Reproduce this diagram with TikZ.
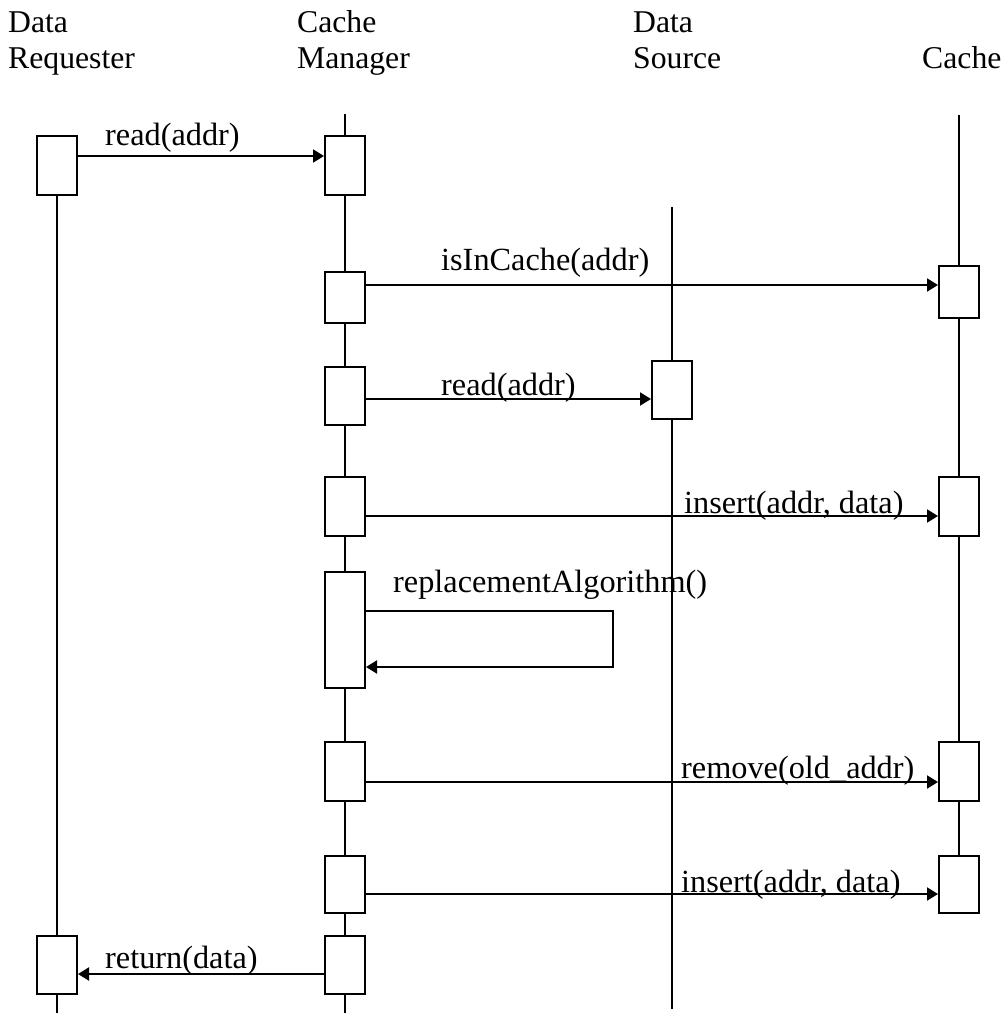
\documentclass[tikz,border=0pt]{standalone}
\usepackage{fontspec}
\setmainfont{Liberation Serif}
\usetikzlibrary{arrows.meta}
% activation box: name, lifeline x, top y, bottom y
\newcommand\actbox[4]{\node[act, minimum height={#4-#3}] (#1) at (#2,{(#3+#4)/2}) {};}
\begin{document}
\begin{tikzpicture}[x=1pt,y=-1pt,
  lifeline/.style={line width=1.3pt},
  act/.style={draw, line width=2pt, fill=white, minimum width=40pt, inner sep=0pt},
  msg/.style={line width=2pt, -{Triangle[length=11pt,width=13pt]}},
  hdr/.style={anchor=base west, inner sep=0pt, font=\fontsize{31.7}{36}\selectfont},
  lbl/.style={anchor=base west, inner sep=0pt, font=\fontsize{32.3}{36}\selectfont}]
\fill[white] (0,0) rectangle (1006,1013);
\useasboundingbox (0,0) rectangle (1006,1013);

% participant headers
\node[hdr] (hDR1) at (8,32) {Data};
\node[hdr] (hDR2) at (8,68) {Requester};
\node[hdr] (hCM1) at (297,32) {Cache};
\node[hdr] (hCM2) at (297,68) {Manager};
\node[hdr] (hDS1) at (633,32) {Data};
\node[hdr] (hDS2) at (633,68) {Source};
\node[hdr] (hC) at (922,68) {Cache};

% activation boxes
\actbox{DR1}{57}{136}{195}
\actbox{DR2}{57}{936}{994}
\actbox{CM1}{345}{136}{195}
\actbox{CM2}{345}{272}{323}
\actbox{CM3}{345}{367}{425}
\actbox{CM4}{345}{477}{536}
\actbox{CM5}{345}{572}{688}
\actbox{CM6}{345}{742}{801}
\actbox{CM7}{345}{856}{913}
\actbox{CM8}{345}{936}{994}
\actbox{DS1}{672}{361}{419}
\actbox{C1}{959}{266}{318}
\actbox{C2}{959}{477}{536}
\actbox{C3}{959}{742}{801}
\actbox{C4}{959}{856}{913}

% lifeline ends
\coordinate (DRend) at (57,1013);
\coordinate (CMtop) at (345,114);
\coordinate (CMend) at (345,1013);
\coordinate (DStop) at (672,207);
\coordinate (DSend) at (672,1009);
\coordinate (Ctop) at (959,115);

% lifelines
\draw[lifeline] (DR1.south) -- (DR2.north) (DR2.south) -- (DRend);
\draw[lifeline] (CMtop) -- (CM1.north);
\foreach \a/\b in {CM1/CM2,CM2/CM3,CM3/CM4,CM4/CM5,CM5/CM6,CM6/CM7,CM7/CM8}
  \draw[lifeline] (\a.south) -- (\b.north);
\draw[lifeline] (CM8.south) -- (CMend);
\draw[lifeline] (DStop) -- (DS1.north) (DS1.south) -- (DSend);
\draw[lifeline] (Ctop) -- (C1.north);
\foreach \a/\b in {C1/C2,C2/C3,C3/C4}
  \draw[lifeline] (\a.south) -- (\b.north);

% messages
\draw[msg] (DR1.east |- 0,156) -- (CM1.west |- 0,156);
\draw[msg] (CM2.east |- 0,285) -- (C1.west |- 0,285);
\draw[msg] (CM3.east |- 0,399) -- (DS1.west |- 0,399);
\draw[msg] (CM4.east |- 0,516) -- (C2.west |- 0,516);
\draw[msg] (CM5.east |- 0,611) -- (613,611) -- (613,667) -- (CM5.east |- 0,667);
\draw[msg] (CM6.east |- 0,782) -- (C3.west |- 0,782);
\draw[msg] (CM7.east |- 0,894) -- (C4.west |- 0,894);
\draw[msg] (CM8.west |- 0,974) -- (DR2.east |- 0,974);

% message labels
\node[lbl] (m1) at (105,145) {read(addr)};
\node[lbl] (m2) at (441,270) {isInCache(addr)};
\node[lbl] (m3) at (441,395) {read(addr)};
\node[lbl] (m4) at (684,513) {insert(addr, data)};
\node[lbl] (m5) at (393,592) {replacementAlgorithm()};
\node[lbl] (m6) at (681,778) {remove(old\_addr)};
\node[lbl] (m7) at (681,892) {insert(addr, data)};
\node[lbl] (m8) at (105,968) {return(data)};
\end{tikzpicture}
\end{document}
